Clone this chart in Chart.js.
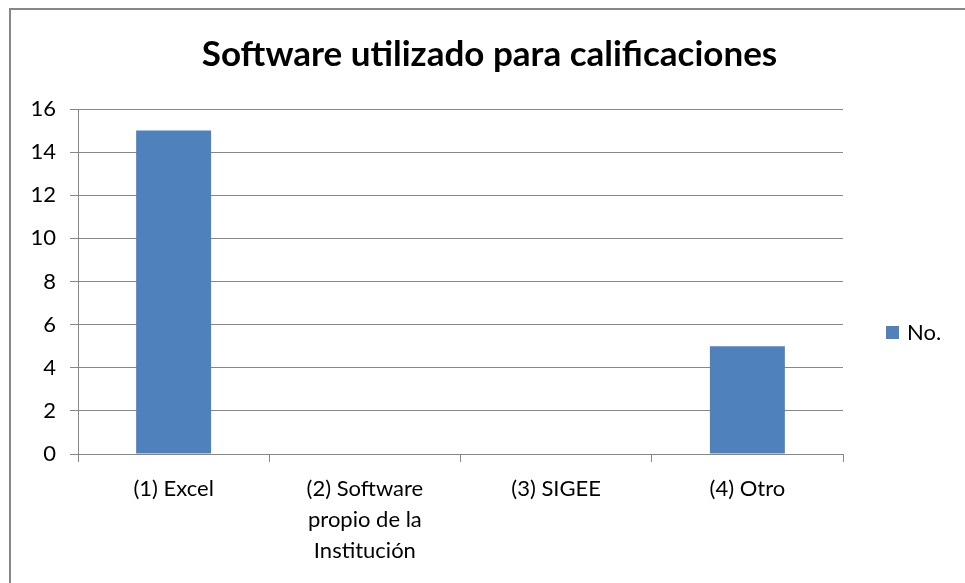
<!DOCTYPE html>
<html>
<head>
<meta charset="utf-8">
<script src="https://cdn.jsdelivr.net/npm/chart.js@4/dist/chart.umd.min.js"></script>
<style>
html,body{margin:0;padding:0;background:#fff;overflow:hidden;}
#wrap{position:relative;width:965px;height:583px;}
#frame{position:absolute;left:9px;top:8px;width:1000px;height:1000px;border:2px solid #878787;box-sizing:border-box;pointer-events:none;}
canvas{position:absolute;left:0;top:0;}
</style>
</head>
<body>
<div id="wrap">
<canvas id="c" width="965" height="583"></canvas>
<div id="frame"></div>
</div>
<script>
const titleText = "Software utilizado para calificaciones";
const categories = [["(1) Excel"], ["(2) Software", "propio de la", "Institución"], ["(3) SIGEE"], ["(4) Otro"]];
const seriesLabel = "No.";
const seriesValues = [15, 0, 0, 5];
const yTicks = [0, 2, 4, 6, 8, 10, 12, 14, 16];

const FONT = "Lato, 'Open Sans', sans-serif";
const BLUE = "#4F81BD";
const GRID = "#878787";

const overlayPlugin = {
  id: 'overlay',
  afterDraw(chart) {
    const ctx = chart.ctx;
    const ds = chart.data.datasets[0];
    ctx.save();
    // title
    ctx.fillStyle = "#000";
    ctx.font = "bold 35px " + FONT;
    ctx.textAlign = "center";
    ctx.textBaseline = "middle";
    ctx.fillText(titleText, 489.5, 55);
    // legend
    ctx.fillStyle = ds.backgroundColor;
    ctx.fillRect(886, 326, 13, 13);
    ctx.fillStyle = "#000";
    ctx.font = "22px " + FONT;
    ctx.textBaseline = "middle";
    ctx.textAlign = "left";
    ctx.fillText(ds.label, 907, 333);
    ctx.restore();
  }
};

new Chart(document.getElementById('c'), {
  type: 'bar',
  data: {
    labels: categories,
    datasets: [{
      label: seriesLabel,
      data: seriesValues,
      backgroundColor: BLUE,
      borderWidth: 0,
      categoryPercentage: 1,
      barPercentage: 0.392
    }]
  },
  plugins: [overlayPlugin],
  options: {
    responsive: false,
    animation: false,
    layout: { padding: { left: 14, right: 122, top: 109, bottom: 0 } },
    plugins: {
      legend: { display: false },
      tooltip: { enabled: false },
      title: { display: false }
    },
    scales: {
      x: {
        grid: { display: true, drawOnChartArea: false, drawTicks: true, tickLength: 8, color: GRID, offset: true },
        border: { display: true, color: GRID },
        ticks: { color: "#000", font: { family: FONT, size: 22, lineHeight: 1.39 }, padding: 12, maxRotation: 0, autoSkip: false },
        afterFit(scale) { scale.height = 129; }
      },
      y: {
        min: 0,
        max: 16,
        afterBuildTicks(scale) { scale.ticks = yTicks.map(v => ({ value: v })); },
        grid: { color: GRID, tickLength: 8, drawTicks: true },
        border: { display: true, color: GRID },
        ticks: { color: "#000", font: { family: FONT, size: 22 }, padding: 14 },
        afterFit(scale) { scale.width = 64; }
      }
    }
  }
});
</script>
</body>
</html>
